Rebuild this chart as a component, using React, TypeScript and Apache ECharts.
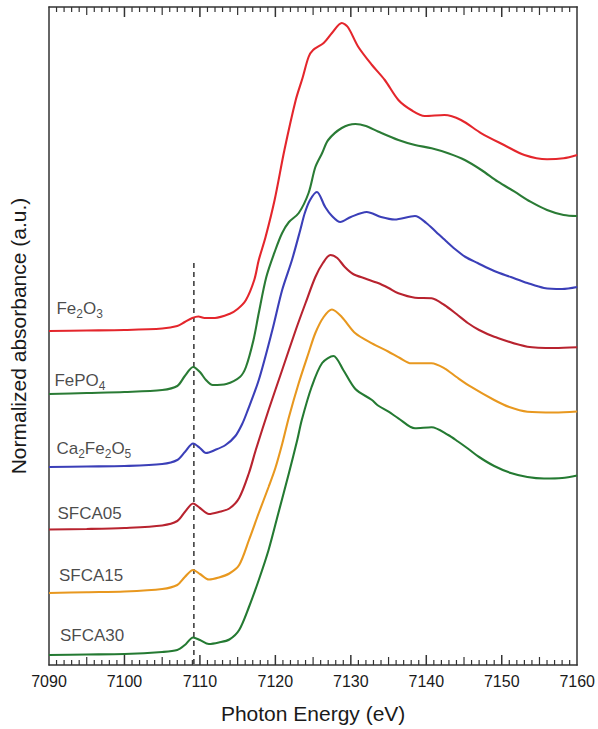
import React, { useEffect, useRef } from 'react';
import * as echarts from 'echarts';

// Photon energy axis (eV)
const energyMin = 7090;
const energyMax = 7160;
const majorStep = 10;
const mediumStep = 5;
const minorStep = 1;

// Vertical extent of the stacked plot (arbitrary units)
const absMin = 0;
const absMax = 6.58;

// Pre-edge marker
const preEdgeEnergy = 7109.2;
const preEdgeTop = 4.02;

// Offset (stacked) normalized absorbance spectra, [energy, absorbance]
const fe2o3: [number, number][] = [
  [7090, 3.34], [7095, 3.345], [7100, 3.35], [7105, 3.365], [7107, 3.39], [7108, 3.43],
  [7109, 3.47], [7109.8, 3.485], [7110.6, 3.47], [7112, 3.47], [7113.9, 3.51], [7115, 3.56],
  [7116.1, 3.65], [7117.2, 3.85], [7117.8, 4.05], [7118.7, 4.28], [7119.9, 4.65], [7121.2, 5.15],
  [7122.7, 5.65], [7123.6, 5.87], [7124.4, 6.08], [7125, 6.15], [7126.4, 6.22], [7127.5, 6.32],
  [7128.8, 6.42], [7129.6, 6.38], [7131, 6.18], [7132.8, 6.0], [7134.5, 5.85], [7136.3, 5.65],
  [7138, 5.55], [7139.8, 5.49], [7142.4, 5.5], [7144.6, 5.45], [7147.3, 5.317], [7150.3, 5.2],
  [7153, 5.1], [7156, 5.057], [7158.2, 5.067], [7160, 5.1],
];

const fepo4: [number, number][] = [
  [7090, 2.71], [7095, 2.72], [7100, 2.73], [7105, 2.75], [7107, 2.79], [7108, 2.89],
  [7109.1, 2.98], [7110, 2.93], [7110.8, 2.85], [7111.7, 2.8], [7113.5, 2.81], [7115.3, 2.88],
  [7116.1, 2.98], [7117.1, 3.25], [7117.8, 3.52], [7118.8, 3.88], [7120, 4.15], [7120.9, 4.32],
  [7121.8, 4.43], [7123.1, 4.52], [7124.4, 4.72], [7125.3, 4.98], [7126.2, 5.12], [7127, 5.25],
  [7128.8, 5.37], [7130.6, 5.41], [7132, 5.39], [7133.6, 5.335], [7136.3, 5.25], [7138.5, 5.2],
  [7140.7, 5.167], [7142.9, 5.117], [7145.1, 5.05], [7147.3, 4.95], [7149.5, 4.833], [7151.7, 4.733],
  [7153.8, 4.633], [7156, 4.55], [7158.2, 4.5], [7160, 4.49],
];

const ca2fe2o5: [number, number][] = [
  [7090, 1.98], [7095, 1.985], [7100, 1.99], [7105, 2.01], [7107, 2.05], [7108, 2.13],
  [7109.1, 2.215], [7110, 2.17], [7110.8, 2.12], [7112, 2.15], [7113.4, 2.2], [7114.7, 2.29],
  [7115.6, 2.41], [7116.2, 2.52], [7117.8, 2.85], [7119.6, 3.35], [7120.9, 3.75], [7122.2, 4.05],
  [7123.3, 4.35], [7123.9, 4.52], [7124.6, 4.65], [7125.5, 4.73], [7126.6, 4.58], [7127.5, 4.49],
  [7128.6, 4.43], [7130, 4.48], [7132.1, 4.53], [7134, 4.48], [7135.8, 4.455], [7138.5, 4.49],
  [7140, 4.42], [7141.3, 4.33], [7142.6, 4.24], [7143.8, 4.16], [7145.2, 4.08], [7146.8, 4.02],
  [7149, 3.94], [7151.2, 3.88], [7153.4, 3.82], [7155.6, 3.77], [7158, 3.76], [7160, 3.78],
];

const sfca05: [number, number][] = [
  [7090, 1.355], [7095, 1.36], [7100, 1.37], [7105, 1.395], [7107, 1.44], [7108, 1.53],
  [7109.1, 1.615], [7110, 1.57], [7111.2, 1.51], [7112.5, 1.53], [7113.9, 1.565], [7115.2, 1.67],
  [7116.5, 1.92], [7117.4, 2.15], [7119.1, 2.55], [7120.9, 2.95], [7122.7, 3.35], [7124, 3.62],
  [7125.3, 3.88], [7126.3, 4.02], [7127.3, 4.1], [7128.2, 4.07], [7129.2, 3.98], [7130.3, 3.91],
  [7131.9, 3.865], [7133.6, 3.82], [7135, 3.77], [7136.3, 3.717], [7138.5, 3.673], [7140.7, 3.667],
  [7142.4, 3.6], [7144, 3.51], [7145.5, 3.42], [7147, 3.35], [7149, 3.283], [7153.4, 3.183],
  [7157, 3.17], [7160, 3.177],
];

const sfca15: [number, number][] = [
  [7090, 0.72], [7095, 0.728], [7100, 0.735], [7105, 0.76], [7107, 0.8], [7108, 0.88],
  [7109.1, 0.95], [7110, 0.91], [7111.2, 0.855], [7112.5, 0.875], [7113.9, 0.915], [7115.2, 1.0],
  [7116.5, 1.25], [7117.8, 1.52], [7119.1, 1.78], [7120, 1.97], [7120.9, 2.21], [7121.8, 2.48],
  [7123.1, 2.82], [7124.4, 3.12], [7125.3, 3.32], [7126.4, 3.48], [7127.5, 3.555], [7128.8, 3.48],
  [7130.6, 3.317], [7132.8, 3.217], [7135, 3.133], [7136.5, 3.07], [7138, 3.017], [7140.7, 3.017],
  [7142.4, 2.967], [7144, 2.88], [7145.9, 2.783], [7149, 2.65], [7151, 2.58], [7153.4, 2.533],
  [7157, 2.525], [7160, 2.535],
];

const sfca30: [number, number][] = [
  [7090, 0.1], [7095, 0.105], [7100, 0.11], [7105, 0.13], [7107, 0.15], [7108, 0.2],
  [7109.1, 0.275], [7110, 0.25], [7111.2, 0.21], [7112.5, 0.225], [7113.9, 0.255], [7115.2, 0.35],
  [7116.5, 0.58], [7117.8, 0.85], [7119.1, 1.15], [7120.4, 1.52], [7121.8, 1.92], [7122.9, 2.25],
  [7123.5, 2.45], [7124.8, 2.78], [7126.2, 3.02], [7127.7, 3.09], [7129, 2.95], [7130.6, 2.76],
  [7132.8, 2.65], [7133.6, 2.595], [7135, 2.533], [7136.3, 2.467], [7138.5, 2.367], [7140.7, 2.377],
  [7142.9, 2.3], [7144.2, 2.235], [7145.5, 2.165], [7147, 2.08], [7149, 1.99], [7151.2, 1.92],
  [7153.4, 1.88], [7155.6, 1.865], [7158, 1.87], [7160, 1.895],
];

const sampleNames = ['Fe2O3', 'FePO4', 'Ca2Fe2O5', 'SFCA05', 'SFCA15', 'SFCA30'];
const sampleLabels = [
  '{m|Fe}{s|2}{m|O}{s|3}',
  '{m|FePO}{s|4}',
  '{m|Ca}{s|2}{m|Fe}{s|2}{m|O}{s|5}',
  '{m|SFCA05}',
  '{m|SFCA15}',
  '{m|SFCA30}',
];
const sampleData = [fe2o3, fepo4, ca2fe2o5, sfca05, sfca15, sfca30];
const sampleColors = ['#e4262c', '#2a7b35', '#3b3fb8', '#b8232f', '#e8981f', '#247a32'];
// label anchor (energy, absorbance) of each curve's name
const labelAnchors: [number, number][] = [
  [7090.99, 3.57], [7090.72, 2.85], [7090.99, 2.17], [7091.12, 1.52], [7091.32, 0.9], [7091.45, 0.295],
];

const FONT = 'Liberation Sans';
const AXIS_COLOR = '#333333';
const TEXT_COLOR = '#1a1a1a';

export default function App() {
  const ref = useRef<HTMLDivElement>(null);

  useEffect(() => {
    document.body.style.margin = '0';
    if (!ref.current) return;
    const chart = echarts.init(ref.current, undefined, { renderer: 'svg' });

    const unitsPerPx = (absMax - absMin) / 658;

    // inward tick marks on the bottom and top frame, drawn as broken line segments
    const majorTicks: any[] = [];
    const minorTicks: any[] = [];
    for (let k = 1; k < (energyMax - energyMin) / minorStep; k++) {
      const v = energyMin + k * minorStep;
      const off = Math.round(v - energyMin);
      const isMajor = off % majorStep === 0;
      const lenPx = isMajor ? 10 : off % mediumStep === 0 ? 8 : 5;
      const len = lenPx * unitsPerPx;
      const target = isMajor ? majorTicks : minorTicks;
      target.push([v, absMax], [v, absMax - len], [v, '-']);
      target.push([v, absMin], [v, absMin + len], [v, '-']);
    }

    // dashed pre-edge marker as short solid dashes (5px on, 4px off)
    const dashes: any[] = [];
    for (let y = preEdgeTop; y > absMin; y -= 9 * unitsPerPx) {
      dashes.push([preEdgeEnergy, y], [preEdgeEnergy, Math.max(absMin, y - 5 * unitsPerPx)], [preEdgeEnergy, '-']);
    }

    const lineAxis = { show: true, onZero: false, lineStyle: { color: AXIS_COLOR, width: 1.5 } };

    const series: any[] = [
      {
        type: 'line',
        data: dashes,
        symbol: 'none',
        connectNulls: false,
        lineStyle: { color: AXIS_COLOR, width: 1.5 },
      },
      ...sampleData.map((d, i) => ({
        name: sampleNames[i],
        type: 'line',
        data: d,
        symbol: 'none',
        smooth: 0.3,
        lineStyle: { color: sampleColors[i], width: 2.1 },
        itemStyle: { color: sampleColors[i] },
      })),
      {
        type: 'line',
        data: majorTicks,
        symbol: 'none',
        connectNulls: false,
        lineStyle: { color: AXIS_COLOR, width: 1.5 },
      },
      {
        type: 'line',
        data: minorTicks,
        symbol: 'none',
        connectNulls: false,
        lineStyle: { color: AXIS_COLOR, width: 1.2 },
      },
      {
        type: 'scatter',
        data: labelAnchors.map((p, i) => ({ value: p, label: { formatter: sampleLabels[i] } })),
        symbolSize: 0,
        silent: true,
        label: {
          show: true,
          position: 'right',
          distance: 0,
          color: TEXT_COLOR,
          rich: {
            m: { fontSize: 17, fontFamily: FONT, lineHeight: 23, verticalAlign: 'middle', color: TEXT_COLOR },
            s: { fontSize: 12, fontFamily: FONT, lineHeight: 12, verticalAlign: 'bottom', color: TEXT_COLOR },
          },
        },
      },
    ];

    chart.setOption({
      animation: false,
      backgroundColor: '#ffffff',
      grid: { left: 49, right: 18, top: 7, bottom: 64, containLabel: false },
      xAxis: [
        {
          type: 'value',
          position: 'bottom',
          min: energyMin,
          max: energyMax,
          interval: majorStep,
          name: 'Photon Energy (eV)',
          nameLocation: 'middle',
          nameGap: 38,
          nameTextStyle: { fontSize: 21, color: TEXT_COLOR, fontFamily: FONT },
          axisLine: lineAxis,
          axisTick: { show: false },
          axisLabel: { show: true, margin: 8, fontSize: 16, color: TEXT_COLOR, fontFamily: FONT, formatter: (v: number) => String(v) },
          splitLine: { show: false },
        },
        {
          type: 'value',
          position: 'top',
          min: energyMin,
          max: energyMax,
          interval: majorStep,
          axisLine: lineAxis,
          axisTick: { show: false },
          axisLabel: { show: false },
          splitLine: { show: false },
        },
      ],
      yAxis: [
        {
          type: 'value',
          position: 'left',
          min: absMin,
          max: absMax,
          name: 'Normalized absorbance (a.u.)',
          nameLocation: 'middle',
          nameGap: 20,
          nameTextStyle: { fontSize: 21, color: TEXT_COLOR, fontFamily: FONT },
          axisLine: lineAxis,
          axisTick: { show: false },
          axisLabel: { show: false },
          splitLine: { show: false },
        },
        {
          type: 'value',
          position: 'right',
          min: absMin,
          max: absMax,
          axisLine: lineAxis,
          axisTick: { show: false },
          axisLabel: { show: false },
          splitLine: { show: false },
        },
      ],
      series,
    });

    return () => chart.dispose();
  }, []);

  return <div ref={ref} style={{ width: 598, height: 729 }} />;
}
